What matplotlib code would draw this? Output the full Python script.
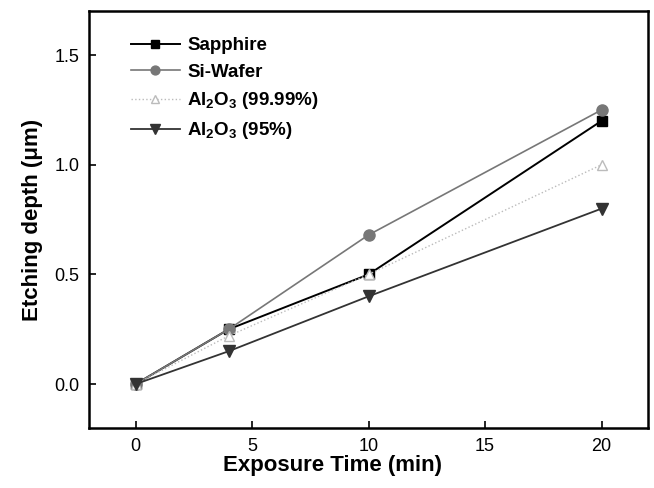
import matplotlib
matplotlib.use("Agg")
import matplotlib.pyplot as plt

plt.rcParams['font.family'] = ['Liberation Sans', 'DejaVu Sans']
plt.rcParams['mathtext.fontset'] = 'custom'
plt.rcParams['mathtext.rm'] = 'Liberation Sans:bold'
plt.rcParams['mathtext.bf'] = 'Liberation Sans:bold'
plt.rcParams['mathtext.it'] = 'Liberation Sans:bold'

time = [0, 4, 10, 20]
sapphire = [0.0, 0.25, 0.50, 1.20]
si_wafer = [0.0, 0.25, 0.68, 1.25]
al2o3_9999 = [0.0, 0.22, 0.50, 1.00]
al2o3_95 = [0.0, 0.15, 0.40, 0.80]

fig = plt.figure(figsize=(6.54, 4.88), dpi=100)
ax = fig.add_axes([0.136, 0.123, 0.855, 0.854])

ax.plot(time, sapphire, color='black', lw=1.4, marker='s', ms=7, label='Sapphire')
ax.plot(time, si_wafer, color='#777777', lw=1.2, marker='o', ms=8, label='Si-Wafer')
ax.plot(time, al2o3_9999, color='#bbbbbb', lw=1.0, ls=':', marker='^', ms=7,
        markerfacecolor='white', label=r'Al$_\mathrm{2}$O$_\mathrm{3}$ (99.99%)')
ax.plot(time, al2o3_95, color='#333333', lw=1.3, marker='v', ms=9,
        label=r'Al$_\mathrm{2}$O$_\mathrm{3}$ (95%)')

ax.set_xlim(-2, 22)
ax.set_ylim(-0.2, 1.7)
ax.set_xticks([0, 5, 10, 15, 20])
ax.set_yticks([0.0, 0.5, 1.0, 1.5])
ax.tick_params(direction='in', length=5, width=1.2, labelsize=13, pad=7)
for s in ax.spines.values():
    s.set_linewidth(1.8)

ax.set_xlabel('Exposure Time (min)', fontsize=16, fontweight='bold', labelpad=2)
ax.xaxis.set_label_coords(0.435, -0.065)
ax.set_ylabel('Etching depth (\u03bcm)', fontsize=16, fontweight='bold', labelpad=8)

ax.legend(loc='upper left', bbox_to_anchor=(0.075, 0.938), frameon=False,
          prop={'weight': 'bold', 'size': 13.5}, handlelength=2.6,
          borderaxespad=0, borderpad=0, labelspacing=0.5, handletextpad=0.4,
          markerscale=0.8)

fig.savefig('out.png', dpi=100)
